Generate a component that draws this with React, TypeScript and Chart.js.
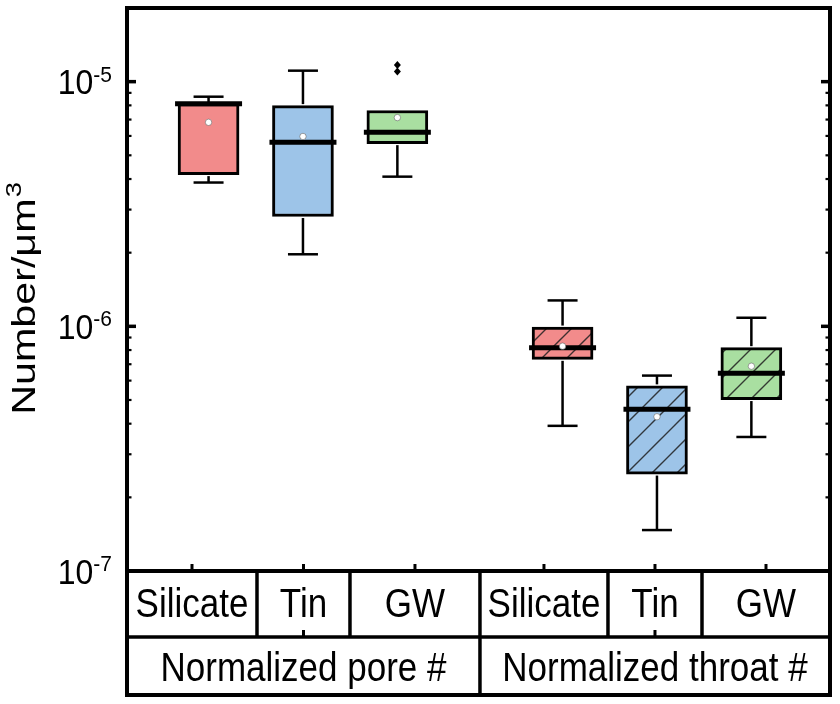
import React, { useEffect, useRef } from "react";
import { Chart, registerables } from "chart.js";

Chart.register(...registerables);

// ---------- data ----------
const categories = ["Silicate", "Tin", "GW", "Silicate", "Tin", "GW"];
const groups = ["Normalized pore #", "Normalized throat #"];
const positions = [1, 2, 3, 4.75, 5.75, 6.75];
const whiskerLow = [3.87e-6, 1.97e-6, 4.09e-6, 3.92e-7, 1.47e-7, 3.53e-7];
const q1 = [4.17e-6, 2.81e-6, 5.58e-6, 7.33e-7, 2.49e-7, 5.02e-7];
const median = [8.13e-6, 5.65e-6, 6.21e-6, 8.18e-7, 4.58e-7, 6.43e-7];
const q3 = [8.13e-6, 7.98e-6, 7.62e-6, 9.93e-7, 5.71e-7, 8.18e-7];
const whiskerHigh = [8.68e-6, 1.109e-5, 7.62e-6, 1.276e-6, 6.29e-7, 1.084e-6];
const means = [6.82e-6, 5.97e-6, 7.13e-6, 8.3e-7, 4.27e-7, 6.87e-7];
const outliers: number[][] = [[], [], [1.17e-5, 1.1e-5], [], [], []];
const yTicks = [1e-7, 1e-6, 1e-5];
const yTickExponents = ["-7", "-6", "-5"];
const yMin = 1e-7;
const yMax = 2e-5;
// table column boundaries (x-scale units)
const colEdges = [0.136, 1.513, 2.498, 3.875, 5.231, 6.227, 7.583];
const groupEdges = [0.136, 3.875, 7.583];

// ---------- styles ----------
const colors = ["#F28B8B", "#9DC4E8", "#A9DFA1", "#F28B8B", "#9DC4E8", "#A9DFA1"];
const hatched = [false, false, false, true, true, true];
const FONT = "'Liberation Sans', Arial, Helvetica, sans-serif";
const BOX_W = 61;
const CAP_W = 30;

function makeHatch(color: string): CanvasPattern | string {
  const s = 25;
  const c = document.createElement("canvas");
  c.width = s;
  c.height = s;
  const g = c.getContext("2d");
  if (!g) return color;
  g.fillStyle = color;
  g.fillRect(0, 0, s, s);
  g.strokeStyle = "rgba(30,30,30,0.85)";
  g.lineWidth = 1.4;
  g.beginPath();
  g.moveTo(-2, s + 2);
  g.lineTo(s + 2, -2);
  g.moveTo(-2, 2);
  g.lineTo(2, -2);
  g.moveTo(s - 2, s + 2);
  g.lineTo(s + 2, s - 2);
  g.stroke();
  const p = g.createPattern(c, "repeat");
  return p || color;
}

function line(ctx: CanvasRenderingContext2D, x1: number, y1: number, x2: number, y2: number, w: number) {
  ctx.lineWidth = w;
  ctx.beginPath();
  ctx.moveTo(x1, y1);
  ctx.lineTo(x2, y2);
  ctx.stroke();
}

function text(
  ctx: CanvasRenderingContext2D,
  t: string,
  x: number,
  y: number,
  size: number,
  sy: number,
  align: CanvasTextAlign
) {
  ctx.save();
  ctx.translate(x, y);
  ctx.scale(1, sy);
  ctx.font = `${size}px ${FONT}`;
  ctx.textAlign = align;
  ctx.textBaseline = "alphabetic";
  ctx.fillText(t, 0, 0);
  ctx.restore();
}

const boxPlugin = {
  id: "boxExtras",
  afterDatasetsDraw(chart: any) {
    const { ctx, scales } = chart;
    const x = scales.x;
    const y = scales.y;
    ctx.save();
    ctx.strokeStyle = "#000";
    ctx.lineCap = "butt";
    positions.forEach((p, i) => {
      const cx = x.getPixelForValue(p);
      const yq1 = y.getPixelForValue(q1[i]);
      const yq3 = y.getPixelForValue(q3[i]);
      const ylo = y.getPixelForValue(whiskerLow[i]);
      const yhi = y.getPixelForValue(whiskerHigh[i]);
      // whiskers
      if (whiskerHigh[i] > q3[i]) {
        line(ctx, cx, yq3 - 1.5, cx, yhi, 2.5);
        line(ctx, cx - CAP_W / 2, yhi, cx + CAP_W / 2, yhi, 2.5);
      }
      if (whiskerLow[i] < q1[i]) {
        line(ctx, cx, yq1 + 1.5, cx, ylo, 2.5);
        line(ctx, cx - CAP_W / 2, ylo, cx + CAP_W / 2, ylo, 2.5);
      }
      // median
      const ym = y.getPixelForValue(median[i]);
      line(ctx, cx - BOX_W / 2 - 3, ym, cx + BOX_W / 2 + 3, ym, 5);
      // mean
      const ymean = y.getPixelForValue(means[i]);
      ctx.beginPath();
      ctx.arc(cx, ymean, 3.2, 0, Math.PI * 2);
      ctx.fillStyle = "#fff";
      ctx.fill();
      ctx.lineWidth = 0.8;
      ctx.strokeStyle = "rgba(90,90,90,0.7)";
      ctx.stroke();
      ctx.strokeStyle = "#000";
      // outliers
      outliers[i].forEach((v) => {
        const yo = y.getPixelForValue(v);
        ctx.beginPath();
        ctx.moveTo(cx, yo - 4);
        ctx.lineTo(cx + 3.5, yo);
        ctx.lineTo(cx, yo + 4);
        ctx.lineTo(cx - 3.5, yo);
        ctx.closePath();
        ctx.fillStyle = "#000";
        ctx.fill();
      });
    });
    ctx.restore();
  },
  afterDraw(chart: any) {
    const { ctx, scales, chartArea } = chart;
    const x = scales.x;
    const y = scales.y;
    const L = chartArea.left;
    const R = chartArea.right;
    const T = chartArea.top;
    const B = chartArea.bottom;
    const row1 = B + 66;
    const row2 = B + 124;
    ctx.save();
    ctx.strokeStyle = "#000";
    ctx.fillStyle = "#000";

    // y ticks (major + minor), both sides, inward
    ctx.lineCap = "butt";
    for (let e = -7; e <= -5; e++) {
      for (let m = 1; m <= 9; m++) {
        const v = m * Math.pow(10, e);
        if (v < yMin || v > yMax) continue;
        const py = y.getPixelForValue(v);
        if (m === 1) {
          line(ctx, L, py, L + 9, py, 3.5);
          line(ctx, R, py, R - 9, py, 3.5);
        } else {
          line(ctx, L, py, L + 4.5, py, 2.2);
          line(ctx, R, py, R - 4.5, py, 2.2);
        }
      }
    }
    // category ticks on bottom axis and group ticks
    for (let i = 0; i < categories.length; i++) {
      const cx = (x.getPixelForValue(colEdges[i]) + x.getPixelForValue(colEdges[i + 1])) / 2;
      line(ctx, cx, B, cx, B - 7, 3);
    }
    for (let g = 0; g < groups.length; g++) {
      const gx = (x.getPixelForValue(groupEdges[g]) + x.getPixelForValue(groupEdges[g + 1])) / 2;
      line(ctx, gx, row1, gx, row1 - 7, 3);
    }

    // frame
    ctx.lineCap = "square";
    line(ctx, L, T, R, T, 4);
    line(ctx, L, T, L, row2, 4);
    line(ctx, R, T, R, row2, 4);
    line(ctx, L, B, R, B, 4);
    line(ctx, L, row1, R, row1, 3.5);
    line(ctx, L, row2, R, row2, 4);
    ctx.lineCap = "butt";
    for (let i = 1; i < colEdges.length - 1; i++) {
      const px = x.getPixelForValue(colEdges[i]);
      line(ctx, px, B, px, row1, 3.5);
    }
    for (let g = 1; g < groupEdges.length - 1; g++) {
      const px = x.getPixelForValue(groupEdges[g]);
      line(ctx, px, row1, px, row2, 3.5);
    }

    // category labels
    for (let i = 0; i < categories.length; i++) {
      const cx = (x.getPixelForValue(colEdges[i]) + x.getPixelForValue(colEdges[i + 1])) / 2;
      text(ctx, categories[i], cx, B + 46, 35, 1.15, "center");
    }
    for (let g = 0; g < groups.length; g++) {
      const gx = (x.getPixelForValue(groupEdges[g]) + x.getPixelForValue(groupEdges[g + 1])) / 2;
      text(ctx, groups[g], gx, row1 + 44, 35, 1.15, "center");
    }

    // y tick labels 10^n
    yTicks.forEach((v, i) => {
      const py = y.getPixelForValue(v);
      const rightEdge = L - 15;
      ctx.font = `21px ${FONT}`;
      const supW = ctx.measureText(yTickExponents[i]).width;
      text(ctx, yTickExponents[i], rightEdge, py, 21, 1.08, "right");
      text(ctx, "10", rightEdge - supW, py + 12.5, 32, 1.08, "right");
    });

    // y title
    ctx.save();
    ctx.translate(23.5, 299);
    ctx.rotate(-Math.PI / 2);
    ctx.scale(1.25, 1);
    ctx.font = `33px ${FONT}`;
    const main = "Number/\u03BCm";
    const mw = ctx.measureText(main).width;
    ctx.font = `22px ${FONT}`;
    const sw = ctx.measureText("3").width;
    const start = -(mw + sw) / 2;
    ctx.textAlign = "left";
    ctx.textBaseline = "alphabetic";
    ctx.font = `33px ${FONT}`;
    ctx.fillText(main, start, 11.8);
    ctx.font = `22px ${FONT}`;
    ctx.fillText("3", start + mw + 1, -3);
    ctx.restore();

    ctx.restore();
  },
};

export default function App() {
  const ref = useRef<HTMLCanvasElement | null>(null);
  useEffect(() => {
    document.body.style.margin = "0";
    const canvas = ref.current;
    if (!canvas) return;
    const bg = colors.map((c, i) => (hatched[i] ? makeHatch(c) : c));
    const chart = new Chart(canvas, {
      type: "bar",
      data: {
        datasets: [
          {
            label: "box",
            data: positions.map((p, i) => ({ x: p, y: [q1[i], q3[i]] })) as any,
            backgroundColor: bg as any,
            borderColor: "#000",
            borderWidth: 3,
            borderSkipped: false,
            barThickness: BOX_W,
          } as any,
        ],
      },
      options: {
        responsive: false,
        animation: false,
        maintainAspectRatio: false,
        layout: { padding: { left: 127, right: 10, top: 8, bottom: 133 } },
        scales: {
          x: {
            type: "linear",
            min: colEdges[0],
            max: colEdges[colEdges.length - 1],
            offset: false,
            display: false,
          },
          y: { type: "logarithmic", min: yMin, max: yMax, display: false },
        },
        plugins: { legend: { display: false }, tooltip: { enabled: false } },
      },
      plugins: [boxPlugin],
    });
    return () => chart.destroy();
  }, []);
  return <canvas ref={ref} width={840} height={704} style={{ display: "block" }} />;
}
